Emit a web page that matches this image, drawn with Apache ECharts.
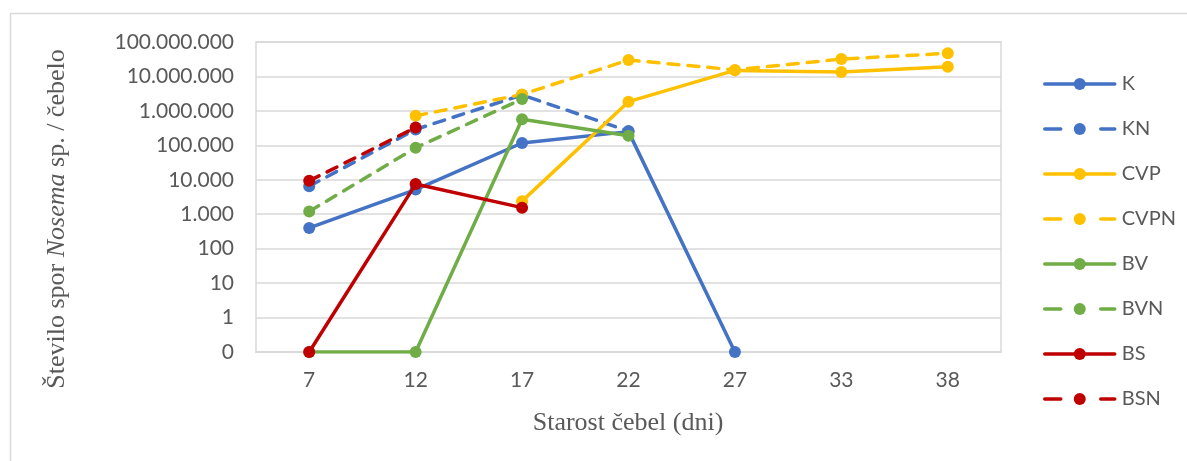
<!DOCTYPE html>
<html>
<head>
<meta charset="utf-8">
<title>Število spor Nosema sp. / čebelo</title>
<script src="https://cdn.jsdelivr.net/npm/echarts@6/dist/echarts.min.js"></script>
<style>
  html, body { margin: 0; padding: 0; background: #ffffff; }
  #chart { width: 1187px; height: 461px; }
</style>
</head>
<body>
<div id="chart"></div>
<script>
// Starost čebel (dni)
const ages = ['7', '12', '17', '22', '27', '33', '38'];

// Spore counts per bee; null = not measured, 0 = no spores found
const seriesNames = ['K', 'KN', 'CVP', 'CVPN', 'BV', 'BVN', 'BS', 'BSN'];
const K    = [400, 5200, 117000, 250000, 0, null, null];
const KN   = [6500, 290000, 2900000, 260000, null, null, null];
const CVP  = [null, null, 2400, 1850000, 15000000, 13500000, 19000000];
const CVPN = [null, 720000, 3000000, 30000000, 15500000, 32000000, 47000000];
const BV   = [0, 0, 570000, 190000, null, null, null];
const BVN  = [1200, 85000, 2200000, null, null, null, null];
const BS   = [0, 7500, 1550, null, null, null, null];
const BSN  = [9300, 330000, null, null, null, null, null];

const seriesValues = [K, KN, CVP, CVPN, BV, BVN, BS, BSN];
const seriesColors = ['#4472C4', '#4472C4', '#FFC000', '#FFC000', '#70AD47', '#70AD47', '#C00000', '#C00000'];
const dashed = [false, true, false, true, false, true, false, true];

// Log axis floor: a zero count sits on the bottom line, labelled "0"
const AXIS_FLOOR = 0.1;

function fmtThousands(v) {
  if (v < 1) return '0';
  return Math.round(v).toString().replace(/\B(?=(\d{3})+(?!\d))/g, '.');
}

const chart = echarts.init(document.getElementById('chart'), null, { renderer: 'canvas' });

const series = seriesNames.map((name, i) => ({
  name: name,
  type: 'line',
  data: seriesValues[i].map(v => (v === null ? null : (v === 0 ? AXIS_FLOOR : v))),
  connectNulls: false,
  symbol: 'circle',
  symbolSize: 12,
  showSymbol: true,
  itemStyle: { color: seriesColors[i] },
  lineStyle: {
    color: seriesColors[i],
    width: 3.5,
    type: dashed[i] ? [11, 9] : 'solid',
    cap: 'round'
  },
  emphasis: { disabled: true },
  z: 2 + i
}));

// Legend entries: dashed series show one dash either side of the marker
const legendData = seriesNames.map((name, i) => ({
  name: name,
  lineStyle: {
    color: seriesColors[i],
    width: 3.5,
    type: dashed[i] ? [16, 40] : 'solid'
  }
}));

const option = {
  animation: false,
  textStyle: { fontFamily: 'Lato, "Open Sans", sans-serif' },
  grid: {
    left: 256, right: 186, top: 42, bottom: 109,
    show: true, borderColor: '#d9d9d9', borderWidth: 1.5
  },
  xAxis: {
    type: 'category',
    data: ages,
    boundaryGap: true,
    axisLine: { show: true, lineStyle: { color: '#d9d9d9', width: 1.5 } },
    axisTick: { show: false },
    axisLabel: { color: '#595959', fontSize: 21, margin: 18, fontFamily: 'Lato, sans-serif' },
    splitLine: { show: false }
  },
  yAxis: {
    type: 'log',
    logBase: 10,
    min: AXIS_FLOOR,
    max: 100000000,
    axisLine: { show: false },
    axisTick: { show: false },
    axisLabel: {
      color: '#595959', fontSize: 21, margin: 22, fontFamily: 'Lato, sans-serif',
      formatter: fmtThousands
    },
    splitLine: { show: true, lineStyle: { color: '#d9d9d9', width: 1.5 } },
    minorTick: { show: false }
  },
  legend: {
    orient: 'vertical',
    left: 1043,
    top: 74,
    padding: 0,
    itemWidth: 70,
    itemHeight: 15,
    itemGap: 25,
    textStyle: { color: '#595959', fontSize: 20, fontFamily: 'Lato, sans-serif', padding: [0, 0, 0, 2] },
    data: legendData
  },
  graphic: [
    {
      type: 'rect',
      shape: { x: 10.5, y: 13.5, width: 1300, height: 600 },
      style: { fill: 'none', stroke: '#d9d9d9', lineWidth: 1.5 },
      silent: true,
      z: -10
    },
    {
      type: 'text',
      x: 57, y: 219,
      rotation: Math.PI / 2,
      style: {
        text: '{n|Število spor }{i|Nosema}{n| sp. / čebelo}',
        align: 'center',
        verticalAlign: 'middle',
        rich: {
          n: { fontFamily: '"Liberation Serif", serif', fontSize: 26, fill: '#595959' },
          i: { fontFamily: '"Liberation Serif", serif', fontSize: 26, fontStyle: 'italic', fill: '#595959' }
        }
      }
    },
    {
      type: 'text',
      x: 628, y: 423,
      style: {
        text: 'Starost čebel (dni)',
        align: 'center',
        verticalAlign: 'middle',
        fontFamily: '"Liberation Serif", serif',
        fontSize: 26,
        fill: '#595959'
      }
    }
  ],
  series: series
};

chart.setOption(option);
</script>
</body>
</html>
